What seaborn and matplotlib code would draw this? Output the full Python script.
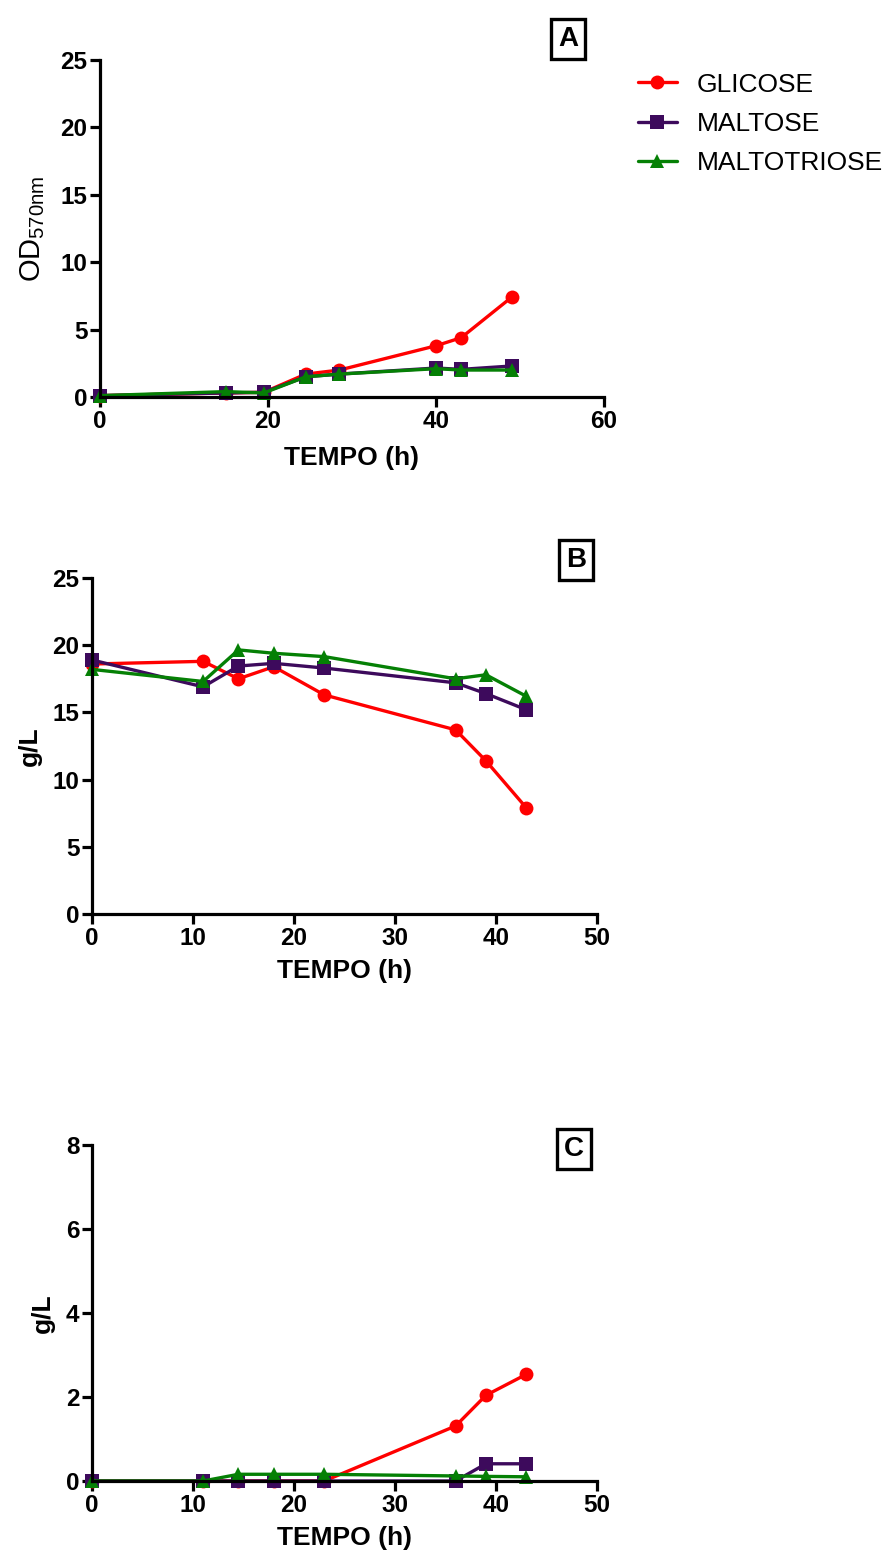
import numpy as np
import pandas as pd
import matplotlib
matplotlib.use("Agg")
import matplotlib.pyplot as plt
import seaborn as sns

# ---- data ----
series_names = ["GLICOSE", "MALTOSE", "MALTOTRIOSE"]

# Panel A: OD570nm
tA = [0, 15, 19.5, 24.5, 28.5, 40, 43, 49]
odA_glicose = [0.1, 0.3, 0.35, 1.7, 2.0, 3.8, 4.4, 7.4]
odA_maltose = [0.1, 0.3, 0.35, 1.5, 1.7, 2.15, 2.05, 2.3]
odA_maltotriose = [0.1, 0.4, 0.3, 1.5, 1.7, 2.1, 2.0, 2.0]

# Panel B: sugar g/L
tB = [0, 11, 14.5, 18, 23, 36, 39, 43]
gB_glicose = [18.6, 18.8, 17.5, 18.4, 16.3, 13.7, 11.4, 7.9]
gB_maltose = [18.9, 16.9, 18.45, 18.65, 18.3, 17.2, 16.4, 15.2]
gB_maltotriose = [18.2, 17.3, 19.65, 19.4, 19.15, 17.5, 17.8, 16.2]

# Panel C: product g/L
tC = [0, 11, 14.5, 18, 23, 36, 39, 43]
gC_glicose = [0.0, 0.0, 0.0, 0.0, 0.0, 1.31, 2.04, 2.54]
gC_maltose = [0.0, 0.0, 0.0, 0.0, 0.0, 0.0, 0.41, 0.41]
gC_maltotriose = [0.0, 0.0, 0.16, 0.16, 0.16, 0.12, 0.11, 0.1]

colors = {"GLICOSE": "#ff0000", "MALTOSE": "#3d0a5c", "MALTOTRIOSE": "#058005"}
markers = {"GLICOSE": "o", "MALTOSE": "s", "MALTOTRIOSE": "^"}
msizes = {"GLICOSE": 10, "MALTOSE": 9.5, "MALTOTRIOSE": 10}

sns.set_style("ticks")
plt.rcParams['font.family'] = ['Liberation Sans', 'DejaVu Sans']
plt.rcParams['mathtext.fontset'] = 'custom'
plt.rcParams['mathtext.rm'] = 'Liberation Sans'
for k in ['text.color', 'axes.labelcolor', 'xtick.color', 'ytick.color', 'axes.edgecolor']:
    plt.rcParams[k] = 'black'

W, H = 892, 1558
fig = plt.figure(figsize=(W / 100, H / 100), dpi=100)


def ax_rect(l, r, t, b):
    return [l / W, 1 - b / H, (r - l) / W, (b - t) / H]


def draw_panel(ax, t, data, xlim, ylim, xstep, ystep, ylabel, ylabel_bold, xpad):
    for name, vals in zip(series_names, data):
        sns.lineplot(x=t, y=vals, ax=ax, color=colors[name], marker=markers[name],
                     markersize=msizes[name], markeredgewidth=0, linewidth=2.4,
                     label=name, legend=False)
    for ln in ax.lines:
        ln.set_clip_on(False)
    ax.set_xlim(*xlim)
    ax.set_ylim(*ylim)
    ax.set_xticks(np.arange(xlim[0], xlim[1] + 0.1, xstep))
    ax.set_yticks(np.arange(ylim[0], ylim[1] + 0.01, ystep))
    ax.set_xticklabels([f"{v:g}" for v in ax.get_xticks()])
    ax.set_yticklabels([f"{v:g}" for v in ax.get_yticks()])
    for s in ["top", "right"]:
        ax.spines[s].set_visible(False)
    for s in ["left", "bottom"]:
        ax.spines[s].set_linewidth(2.3)
    ax.tick_params(width=2.3, length=7.5, labelsize=17.5, pad=1.5)
    for lab in ax.get_xticklabels() + ax.get_yticklabels():
        lab.set_fontweight("bold")
    ax.set_xlabel("TEMPO (h)", fontsize=19, fontweight="bold", labelpad=xpad)
    if ylabel_bold:
        ax.set_ylabel(ylabel, fontsize=19, fontweight="bold", labelpad=8)
    else:
        ax.set_ylabel(ylabel, fontsize=21, fontweight="normal", labelpad=10)


axA = fig.add_axes(ax_rect(100, 604, 60, 397))
draw_panel(axA, tA, [odA_glicose, odA_maltose, odA_maltotriose], (0, 60), (0, 25), 20, 5,
           r"OD$_{\mathregular{570nm}}$", False, 10)

axB = fig.add_axes(ax_rect(92, 597, 578, 914))
draw_panel(axB, tB, [gB_glicose, gB_maltose, gB_maltotriose], (0, 50), (0, 25), 10, 5,
           "g/L", True, 7)

axC = fig.add_axes(ax_rect(92, 597, 1145, 1481))
draw_panel(axC, tC, [gC_glicose, gC_maltose, gC_maltotriose], (0, 50), (0, 8), 10, 2,
           "g/L", True, 7)

# panel letters
for letter, (px, py) in zip(["A", "B", "C"], [(568, 39), (576, 560), (574, 1149)]):
    fig.text(px / W, 1 - py / H, letter, ha="center", va="center", fontsize=20,
             fontweight="bold",
             bbox=dict(boxstyle="square,pad=0.26", facecolor="white", edgecolor="black",
                       linewidth=2.4))

handles, labels = axA.get_legend_handles_labels()
fig.legend(handles, labels, loc="upper left", bbox_to_anchor=(627 / W, 1 - 62 / H),
           frameon=False, fontsize=19, handlelength=1.5, handletextpad=0.75,
           labelspacing=0.58, borderaxespad=0)

fig.savefig("out.png", dpi=100)
